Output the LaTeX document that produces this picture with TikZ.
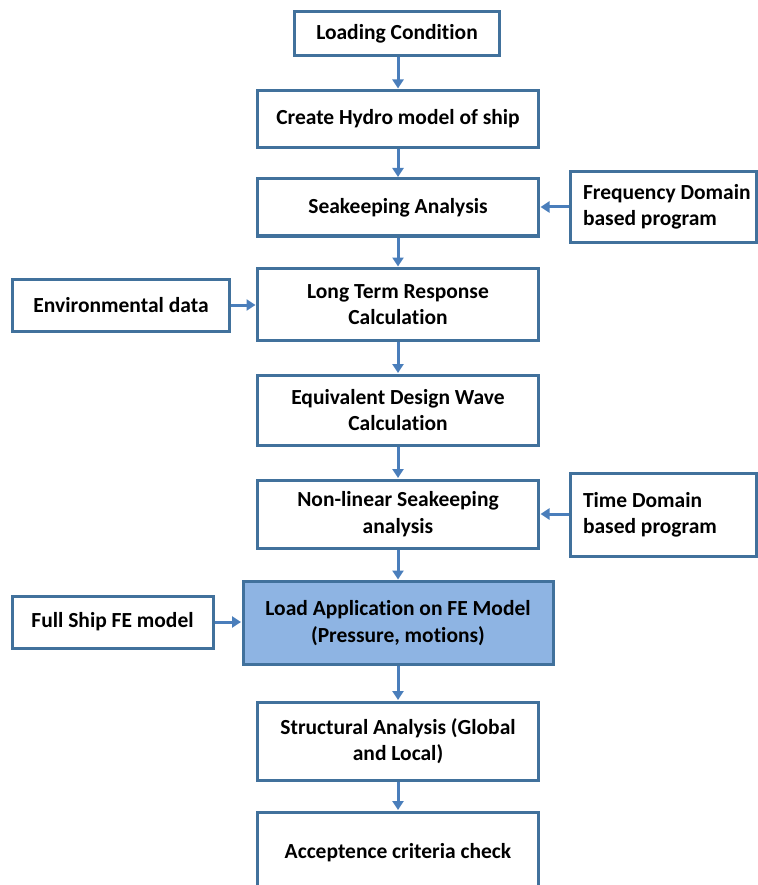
\documentclass[tikz,border=0pt]{standalone}
\usepackage{fontspec}
\setmainfont{Carlito}[Ligatures={NoCommon}]
\usetikzlibrary{arrows.meta}
\definecolor{boxline}{HTML}{41719C}
\definecolor{arrowc}{HTML}{4A7EBB}
\definecolor{hifill}{HTML}{8EB4E3}
\tikzset{
  x=1pt, y=-1pt,
  box/.style={draw=boxline, line width=3pt, fill=white, inner sep=0pt, align=center,
    font=\fontsize{21.5}{26.5}\selectfont\bfseries},
  sidebox/.style={box, align=flush left, text width=186pt},
  flow/.style={draw=arrowc, line width=3pt, -{Triangle[length=9pt,width=11pt]}, shorten >=0.5pt},
}
\newcommand{\ind}{\hspace*{13pt}}
\begin{document}
\begin{tikzpicture}
\useasboundingbox (0,0) rectangle (757,885);
\node[box, minimum width=205pt, minimum height=44pt] (load) at (397,33.5) {Loading Condition};
\node[box, minimum width=281pt, minimum height=57pt] (hydro) at (398,119) {Create Hydro model of ship};
\node[box, minimum width=281pt, minimum height=57pt] (seak) at (398,207.5) {Seakeeping Analysis};
\node[sidebox, minimum height=70pt] (freq) at (663,207) {\ind Frequency Domain\\\ind based program};
\node[box, minimum width=217pt, minimum height=52pt] (env) at (121,305) {Environmental data};
\node[box, minimum width=281pt, minimum height=72pt] (ltr) at (398,304.5) {Long Term Response\\Calculation};
\node[box, minimum width=281pt, minimum height=70pt] (edw) at (398,410) {Equivalent Design Wave\\Calculation};
\node[box, minimum width=281pt, minimum height=68pt] (nls) at (398,514) {Non-linear Seakeeping\\analysis};
\node[sidebox, minimum height=83pt] (time) at (663,515) {\ind Time Domain\\\ind based program};
\node[box, fill=hifill, minimum width=310pt, minimum height=83pt] (fe) at (398,623) {Load Application on FE Model\\(Pressure, motions)};
\node[box, minimum width=201pt, minimum height=52pt] (ship) at (112.5,622) {Full Ship FE model};
\node[box, minimum width=281pt, minimum height=78pt] (str) at (398,741) {Structural Analysis (Global\\and Local)};
\node[box, minimum width=281pt, minimum height=82pt] (acc) at (398,853) {Acceptence criteria check};
\draw[flow] (load.south -| hydro.north) -- (hydro.north);
\draw[flow] (hydro) -- (seak);
\draw[flow] (seak) -- (ltr);
\draw[flow] (ltr) -- (edw);
\draw[flow] (edw) -- (nls);
\draw[flow] (nls) -- (fe);
\draw[flow] (fe) -- (str);
\draw[flow] (str) -- (acc);
\draw[flow] (freq.west) -- (freq.west -| seak.east);
\draw[flow] (env.east) -- (env.east -| ltr.west);
\draw[flow] (time.west |- nls.east) -- (nls.east);
\draw[flow] (ship.east) -- (ship.east -| fe.west);
\end{tikzpicture}
\end{document}
